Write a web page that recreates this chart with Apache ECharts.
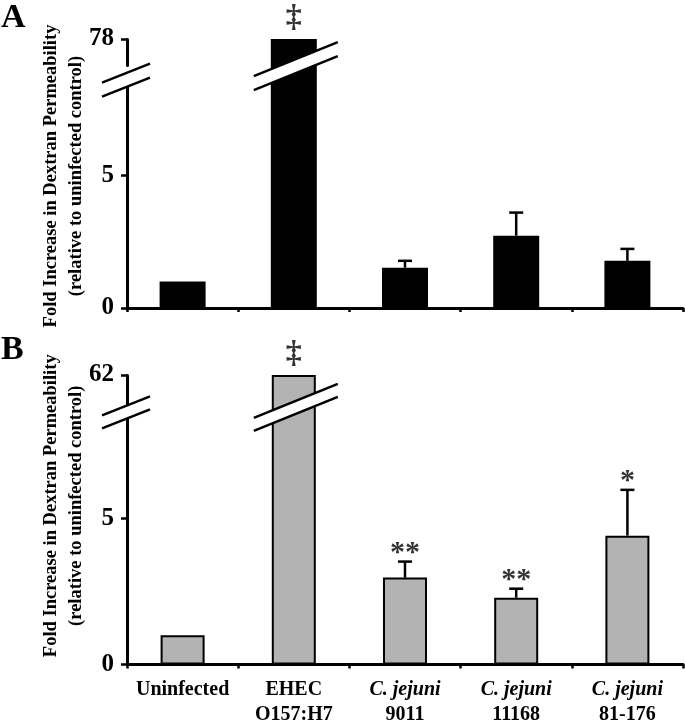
<!DOCTYPE html>
<html><head><meta charset="utf-8">
<script src="https://cdn.jsdelivr.net/npm/echarts@6/dist/echarts.min.js"></script>
<style>html,body{margin:0;padding:0;background:#fff}#c{width:685px;height:725px}</style>
</head><body><div id="c"></div>
<script>
// ---- data ----
const categories = ['Uninfected', 'EHEC O157:H7', 'C. jejuni 9011', 'C. jejuni 11168', 'C. jejuni 81-176'];
const valuesA = [1.0, 78, 1.52, 2.73, 1.78];
const errorsA = [0, 0, 0.26, 0.87, 0.45];
const sigA = ['', '‡', '', '', ''];
const valuesB = [1.0, 62, 2.98, 2.29, 4.42];
const errorsB = [0, 0, 0.55, 0.31, 1.57];
const sigB = ['', '‡', '**', '**', '*'];
const yTicksA = [0, 5, 78];
const yTicksB = [0, 5, 62];
const breakA = [8.5, 77];
const breakB = [8.5, 61];
const yTitle = 'Fold Increase in Dextran Permeability\n(relative to uninfected control)';

const SERIF = 'Liberation Serif, Times New Roman, serif';
const chart = echarts.init(document.getElementById('c'), null, {renderer: 'canvas'});

function xLabel(v) {
  if (v.indexOf('C. jejuni') === 0) return '{i|C. jejuni}\n{b|' + v.slice(10) + '}';
  const k = v.indexOf(' ');
  if (k < 0) return '{b|' + v + '}';
  return '{b|' + v.slice(0, k) + '}\n{b|' + v.slice(k + 1) + '}';
}

function yAxisCfg(idx, ticks, brk, gap, namePad) {
  return {
    type: 'value', gridIndex: idx, min: 0, max: ticks[ticks.length - 1],
    breaks: [{start: brk[0], end: brk[1], gap: gap}],
    breakArea: {show: false},
    splitLine: {show: false},
    axisLine: {show: true, lineStyle: {color: '#000', width: 3}},
    axisTick: {show: true, length: 6, lineStyle: {color: '#000', width: 2.5}, customValues: ticks},
    axisLabel: {show: true, margin: 13, customValues: ticks, color: '#000',
      fontFamily: SERIF, fontWeight: 'bold', fontSize: 25},
    name: yTitle, nameLocation: 'middle', nameGap: 38, nameMoveOverlap: false,
    nameTextStyle: {fontFamily: SERIF, fontWeight: 'bold', fontSize: 18.5, lineHeight: 25, color: '#000', padding: namePad}
  };
}

function xAxisCfg(idx, showLabels) {
  return {
    type: 'category', gridIndex: idx, data: categories,
    axisLine: {lineStyle: {color: '#000', width: 3}},
    axisTick: {show: true, length: 4, lineStyle: {color: '#000', width: 2.5}},
    axisLabel: {show: showLabels, interval: 0, margin: 13, formatter: xLabel,
      rich: {
        b: {fontFamily: SERIF, fontWeight: 'bold', fontSize: 20, lineHeight: 25, color: '#000'},
        i: {fontFamily: SERIF, fontWeight: 'bold', fontStyle: 'italic', fontSize: 20, lineHeight: 25, color: '#000'}
      }}
  };
}

function errSeries(idx, vals, errs) {
  return {
    type: 'custom', xAxisIndex: idx, yAxisIndex: idx, z: 3,
    data: vals.map((v, i) => [i, v, v + errs[i]]).filter((d, i) => errs[i] > 0),
    encode: {x: 0, y: [1, 2]},
    renderItem: function (params, api) {
      const b = api.coord([api.value(0), api.value(1)]);
      const t = api.coord([api.value(0), api.value(2)]);
      const cap = 7;
      return {type: 'group', children: [
        {type: 'line', shape: {x1: b[0], y1: b[1], x2: t[0], y2: t[1]}, style: {stroke: '#000', lineWidth: 2.5}},
        {type: 'line', shape: {x1: t[0] - cap, y1: t[1], x2: t[0] + cap, y2: t[1]}, style: {stroke: '#000', lineWidth: 2.5}}
      ]};
    }
  };
}

function sigSeries(idx, vals, errs, sig) {
  return {
    type: 'scatter', xAxisIndex: idx, yAxisIndex: idx, symbolSize: 1, z: 4,
    itemStyle: {color: 'rgba(0,0,0,0)'},
    data: vals.map((v, i) => {
      const dagger = sig[i] === '‡';
      return {value: [i, v + errs[i]], label: dagger
        ? {distance: 6, fontSize: 32, fontWeight: 'bold', lineHeight: 30}
        : {distance: -5, fontSize: 30, fontWeight: 'bold', lineHeight: 26}};
    }),
    label: {show: true, position: 'top', color: '#000', fontFamily: SERIF,
      formatter: p => sig[p.dataIndex]}
  };
}

chart.setOption({
  animation: false,
  backgroundColor: '#fff',
  grid: [
    {left: 127, right: 2, top: 39, height: 269},
    {left: 127, right: 2, top: 375, height: 290}
  ],
  xAxis: [xAxisCfg(0, false), xAxisCfg(1, true)],
  yAxis: [yAxisCfg(0, yTicksA, breakA, 0.65, [0, 5, 0, 0]), yAxisCfg(1, yTicksB, breakB, 0.43, [0, 0, 0, 28])],
  series: [
    {type: 'bar', xAxisIndex: 0, yAxisIndex: 0, data: valuesA, barWidth: 46,
      itemStyle: {color: '#000'}},
    errSeries(0, valuesA, errorsA),
    sigSeries(0, valuesA, errorsA, sigA),
    {type: 'bar', xAxisIndex: 1, yAxisIndex: 1, data: valuesB, barWidth: 44,
      itemStyle: {color: '#b3b3b3', borderColor: '#000', borderWidth: 2}},
    errSeries(1, valuesB, errorsB),
    sigSeries(1, valuesB, errorsB, sigB)
  ]
});

// ---- break marks (decoration) ----
function slash(cx, cy, halfW, rise, sep) {
  const x1 = cx - halfW, x2 = cx + halfW;
  const yL = cy + rise / 2, yR = cy - rise / 2;
  return [
    {type: 'polygon', z: 100, shape: {points: [[x1, yL - sep / 2], [x2, yR - sep / 2], [x2, yR + sep / 2], [x1, yL + sep / 2]]}, style: {fill: '#fff'}},
    {type: 'line', z: 101, shape: {x1: x1, y1: yL - sep / 2, x2: x2, y2: yR - sep / 2}, style: {stroke: '#000', lineWidth: 2.5}},
    {type: 'line', z: 101, shape: {x1: x1, y1: yL + sep / 2, x2: x2, y2: yR + sep / 2}, style: {stroke: '#000', lineWidth: 2.5}}
  ];
}
const graphics = [];
[[0, breakA, 6, -8, 14], [1, breakB, 2, -3, 13]].forEach(([k, brk, offAxis, offBar, sep]) => {
  const c0 = chart.convertToPixel({xAxisIndex: k}, categories[0]);
  const c1 = chart.convertToPixel({xAxisIndex: k}, categories[1]);
  const axisX = c0 - (c1 - c0) / 2;
  const cy = (chart.convertToPixel({yAxisIndex: k}, brk[0]) + chart.convertToPixel({yAxisIndex: k}, brk[1])) / 2;
  graphics.push(...slash(axisX - 1, cy + offAxis, 24, 19, sep));
  graphics.push(...slash(c1 + 2, cy + offBar, 42, 34, sep));
});
graphics.push({type: 'text', left: 1, top: 1, z: 102, style: {text: 'A', font: 'bold 34px ' + SERIF, fill: '#000'}});
graphics.push({type: 'text', left: 1, top: 333, z: 102, style: {text: 'B', font: 'bold 34px ' + SERIF, fill: '#000'}});
chart.setOption({graphic: graphics});
</script>
</body></html>
